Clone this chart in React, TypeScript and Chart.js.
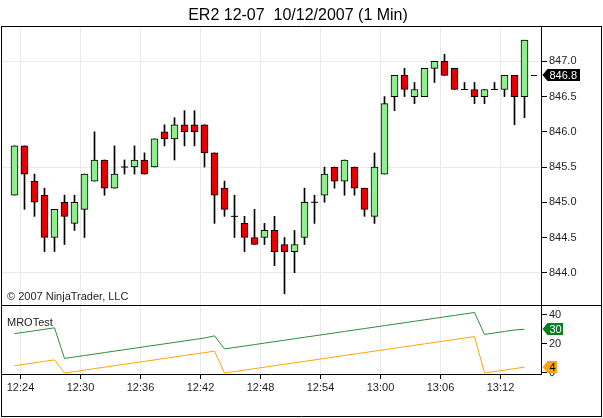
import React, { useEffect, useRef } from 'react';
import { Chart, registerables } from 'chart.js';
Chart.register(...registerables);

const TITLE = 'ER2 12-07  10/12/2007 (1 Min)';
const COPYRIGHT = '© 2007 NinjaTrader, LLC';
const INDICATOR_NAME = 'MROTest';

const OPEN = [845.1, 845.8, 845.3, 845.1, 844.5, 845.0, 844.7, 844.9, 845.3, 845.6, 845.2, 845.5, 845.5, 845.6, 845.5, 846.0, 845.9, 846.1, 846.1, 846.1, 845.7, 845.2, 844.8, 844.7, 844.5, 844.5, 844.6, 844.4, 844.3, 844.5, 845.0, 845.1, 845.5, 845.3, 845.5, 845.2, 844.8, 845.4, 846.5, 846.8, 846.5, 846.5, 846.9, 847.0, 846.9, 846.6, 846.6, 846.5, 846.6, 846.6, 846.8, 846.5];
const HIGH = [845.8, 845.8, 845.4, 845.2, 844.9, 845.1, 845.1, 845.4, 846.0, 845.6, 845.8, 845.6, 845.8, 845.7, 845.9, 846.1, 846.2, 846.3, 846.3, 846.1, 845.7, 845.3, 845.1, 844.8, 844.9, 844.7, 844.8, 844.5, 844.6, 845.2, 845.1, 845.5, 845.5, 845.6, 845.5, 845.2, 845.7, 846.5, 846.8, 846.9, 846.7, 846.9, 847.0, 847.1, 846.9, 846.7, 846.7, 846.6, 846.7, 846.8, 846.8, 847.3];
const LOW = [845.1, 844.9, 844.8, 844.3, 844.3, 844.4, 844.6, 844.5, 845.3, 845.1, 845.2, 845.4, 845.4, 845.4, 845.5, 845.8, 845.6, 845.8, 845.8, 845.5, 844.7, 844.8, 844.5, 844.3, 844.4, 844.4, 844.1, 843.7, 844.0, 844.4, 844.7, 845.0, 845.2, 845.1, 845.1, 844.8, 844.7, 845.4, 846.3, 846.5, 846.4, 846.5, 846.7, 846.8, 846.6, 846.6, 846.4, 846.4, 846.6, 846.5, 846.1, 846.2];
const CLOSE = [845.8, 845.4, 845.0, 844.5, 844.9, 844.8, 845.0, 845.4, 845.6, 845.2, 845.4, 845.5, 845.6, 845.4, 845.9, 845.9, 846.1, 846.0, 846.0, 845.7, 845.1, 844.9, 844.8, 844.5, 844.4, 844.6, 844.3, 844.3, 844.4, 845.0, 845.0, 845.4, 845.3, 845.6, 845.2, 844.9, 845.5, 846.4, 846.8, 846.6, 846.6, 846.9, 847.0, 846.8, 846.6, 846.6, 846.5, 846.6, 846.6, 846.8, 846.5, 847.3];

const MRO_GREEN = [27, 28, 29, 30, 31, 10, 11, 12, 13, 14, 15, 16, 17, 18, 19, 20, 21, 22, 23, 24, 25.5, 16.5, 17.5, 18.5, 19.5, 20.5, 21.5, 22.5, 23.5, 24.5, 25.5, 26.5, 27.5, 28.5, 29.5, 30.5, 31.5, 32.5, 33.5, 34.5, 35.5, 36.5, 37.5, 38.5, 39.5, 40.5, 41.5, 26.5, 27.5, 28.5, 29.5, 30];
const MRO_ORANGE = [5, 6, 7, 8, 9, 0, 1, 2, 3, 4, 5, 6, 7, 8, 9, 10, 11, 12, 13, 14, 15, 0, 1, 2, 3, 4, 5, 6, 7, 8, 9, 10, 11, 12, 13, 14, 15, 16, 17, 18, 19, 20, 21, 22, 23, 24, 25, 0, 1, 2, 3, 4];

const LAST_PRICE = 846.8;
const PRICE_TICKS = [844.0, 844.5, 845.0, 845.5, 846.0, 846.5, 847.0];
const PRICE_GRID = [844.0, 845.5, 847.0];
const IND_TICKS = [0, 20, 40];
const TIME_LABELS = ['12:24', '12:30', '12:36', '12:42', '12:48', '12:54', '13:00', '13:06', '13:12'];
const TIME_TICK_POS = [0.6, 6.6, 12.6, 18.6, 24.6, 30.6, 36.6, 42.6, 48.6];

const FONT = "'Liberation Sans', Arial, sans-serif";
const UP = '#90ee90';
const DOWN = '#e40000';
const GREEN_LINE = '#2e8b3a';
const ORANGE_LINE = '#ffa500';
const GRID = '#e9e9e9';
const TEXT = '#1e1e1e';

function drawTag(ctx: CanvasRenderingContext2D, x0: number, y: number, text: string, bg: string, fg: string, padR: number) {
  ctx.font = `11px ${FONT}`;
  const w = ctx.measureText(text).width;
  const h = 12;
  const top = Math.round(y - h / 2);
  const bot = top + h;
  const right = Math.round(x0 + 7 + w + padR);
  ctx.beginPath();
  ctx.moveTo(x0, (top + bot) / 2);
  ctx.lineTo(x0 + 5, top);
  ctx.lineTo(right, top);
  ctx.lineTo(right, bot);
  ctx.lineTo(x0 + 5, bot);
  ctx.closePath();
  ctx.fillStyle = bg;
  ctx.fill();
  ctx.fillStyle = fg;
  ctx.textAlign = 'left';
  ctx.textBaseline = 'middle';
  ctx.fillText(text, x0 + 7, (top + bot) / 2 + 0.5);
}

const overlay = {
  id: 'overlay',
  afterDraw(chart: any) {
    const { ctx, chartArea } = chart;
    const yS = chart.scales.y;
    const y2S = chart.scales.y2;
    ctx.save();
    ctx.fillStyle = '#000';
    ctx.font = `16px ${FONT}`;
    ctx.textAlign = 'center';
    ctx.textBaseline = 'alphabetic';
    ctx.fillText(TITLE, 298, 19.5);
    ctx.strokeStyle = '#000';
    ctx.lineWidth = 1;
    ctx.beginPath();
    ctx.moveTo(1, 26.5); ctx.lineTo(602, 26.5);
    ctx.moveTo(1.5, 26); ctx.lineTo(1.5, 417);
    ctx.moveTo(601.5, 26); ctx.lineTo(601.5, 417);
    ctx.moveTo(1, 416.5); ctx.lineTo(602, 416.5);
    const sep = Math.round(yS.bottom) + 0.5;
    ctx.moveTo(1, sep); ctx.lineTo(602, sep);
    ctx.stroke();
    ctx.font = `11px ${FONT}`;
    ctx.fillStyle = TEXT;
    ctx.textAlign = 'left';
    ctx.textBaseline = 'alphabetic';
    ctx.fillText(COPYRIGHT, 7, 299.5);
    ctx.fillText(INDICATOR_NAME, 7, 326);
    const py = Math.round(yS.getPixelForValue(LAST_PRICE)) + 0.5;
    ctx.beginPath();
    ctx.moveTo(chartArea.right - 10, py);
    ctx.lineTo(chartArea.right - 4, py);
    ctx.stroke();
    const x0 = chartArea.right + 1.5;
    drawTag(ctx, x0, yS.getPixelForValue(LAST_PRICE), LAST_PRICE.toFixed(1), '#000', '#fff', 3);
    const g = MRO_GREEN[MRO_GREEN.length - 1];
    const o = MRO_ORANGE[MRO_ORANGE.length - 1];
    drawTag(ctx, x0, y2S.getPixelForValue(g), String(g), '#08801f', '#fff', 1);
    drawTag(ctx, x0, y2S.getPixelForValue(o), String(o), '#ffa21a', '#000', 1);
    ctx.restore();
  },
};

export default function App() {
  const ref = useRef<HTMLCanvasElement>(null);
  useEffect(() => {
    document.body.style.margin = '0';
    const canvas = ref.current!;
    const idx = OPEN.map((_, i) => i);
    const bodies = idx.map((i) => ({ x: i, y: [OPEN[i], CLOSE[i]] }));
    const wicks = idx.map((i) => ({ x: i, y: [LOW[i], HIGH[i]] }));
    const dojis = idx.map((i) => ({ x: i, y: OPEN[i] === CLOSE[i] ? CLOSE[i] : null }));
    const bodyColors = idx.map((i) => (CLOSE[i] >= OPEN[i] ? UP : DOWN));
    const green = idx.map((i) => ({ x: i, y: MRO_GREEN[i] }));
    const orange = idx.map((i) => ({ x: i, y: MRO_ORANGE[i] }));

    const chart = new Chart(canvas, {
      type: 'line',
      data: {
        datasets: [
          {
            type: 'bar', data: wicks as any, xAxisID: 'x', yAxisID: 'y', grouped: false,
            barThickness: 1, backgroundColor: '#000', borderWidth: 0, order: 3,
          } as any,
          {
            type: 'bar', data: bodies as any, xAxisID: 'x', yAxisID: 'y', grouped: false,
            barThickness: 7, backgroundColor: bodyColors, borderColor: '#000', borderWidth: 1,
            borderSkipped: false, order: 2,
          } as any,
          {
            type: 'line', data: dojis as any, xAxisID: 'x', yAxisID: 'y', showLine: false,
            pointStyle: 'line', pointRadius: 3.5, pointBorderColor: '#000', pointBorderWidth: 1, order: 1,
          } as any,
          {
            type: 'line', data: green as any, xAxisID: 'x', yAxisID: 'y2', borderColor: GREEN_LINE,
            borderWidth: 1, pointRadius: 0, tension: 0, order: 0,
          } as any,
          {
            type: 'line', data: orange as any, xAxisID: 'x', yAxisID: 'y2', borderColor: ORANGE_LINE,
            borderWidth: 1, pointRadius: 0, tension: 0, order: 0,
          } as any,
        ],
      },
      options: {
        responsive: false,
        animation: false,
        devicePixelRatio: 1,
        layout: { autoPadding: false, padding: { top: 27, left: 1, right: 2, bottom: 2 } },
        plugins: { legend: { display: false }, tooltip: { enabled: false }, title: { display: false } },
        scales: {
          x: {
            type: 'linear', min: -1.35, max: 52.65, offset: false,
            grid: { color: GRID, tickColor: '#000', tickLength: 5, offset: false },
            border: { display: true, color: '#000', width: 1 },
            ticks: {
              autoSkip: false, maxRotation: 0, minRotation: 0, padding: 2,
              color: TEXT, font: { family: FONT, size: 11 },
              callback: (_v: any, i: number) => TIME_LABELS[i],
            },
            afterBuildTicks: (s: any) => { s.ticks = TIME_TICK_POS.map((v) => ({ value: v })); },
            afterFit: (s: any) => { s.height = 42; s.paddingLeft = 0; s.paddingRight = 0; },
          },
          y: {
            type: 'linear', position: 'right', stack: 'panes', stackWeight: 278,
            min: 843.542, max: 847.487,
            grid: {
              color: (c: any) => (c.tick && PRICE_GRID.includes(c.tick.value) ? GRID : 'rgba(0,0,0,0)'),
              tickColor: '#000', tickLength: 6,
            },
            border: { display: true, color: '#000', width: 1 },
            ticks: {
              padding: 2, color: TEXT, font: { family: FONT, size: 11 },
              callback: (v: any) => Number(v).toFixed(1),
            },
            afterBuildTicks: (s: any) => { s.ticks = PRICE_TICKS.map((v) => ({ value: v })); },
            afterFit: (s: any) => { s.width = 60; s.paddingTop = 0; s.paddingBottom = 0; },
          },
          y2: {
            type: 'linear', position: 'right', stack: 'panes', stackWeight: 69,
            min: -0.69, max: 46.66,
            grid: { color: 'rgba(0,0,0,0)', tickColor: '#000', tickLength: 6 },
            border: { display: true, color: '#000', width: 1 },
            ticks: { padding: 2, color: TEXT, font: { family: FONT, size: 11 } },
            afterBuildTicks: (s: any) => { s.ticks = IND_TICKS.map((v) => ({ value: v })); },
            afterFit: (s: any) => { s.width = 60; s.paddingTop = 0; s.paddingBottom = 0; },
          },
        },
      } as any,
      plugins: [overlay],
    });
    return () => chart.destroy();
  }, []);
  return <canvas ref={ref} width={603} height={418} style={{ display: 'block' }} />;
}
